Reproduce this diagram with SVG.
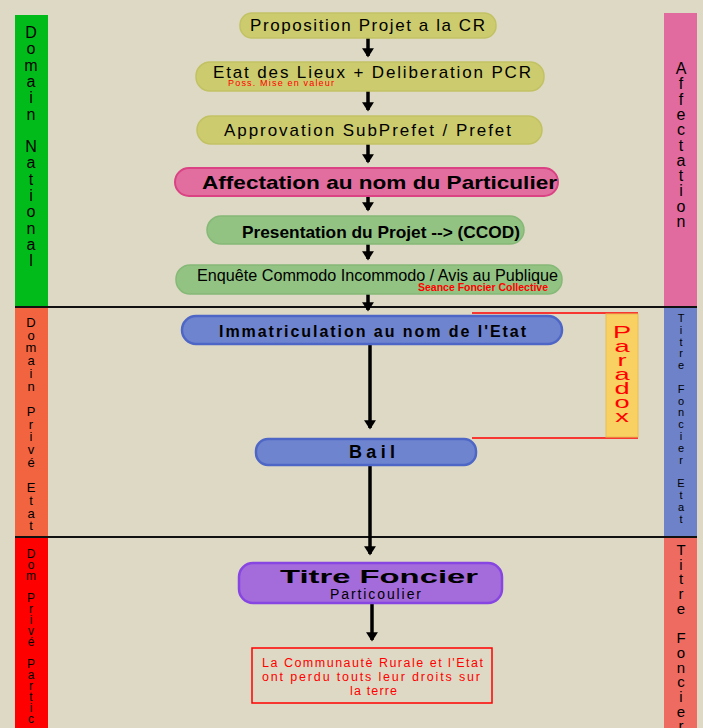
<svg xmlns="http://www.w3.org/2000/svg" width="703" height="728" viewBox="0 0 703 728">
<style>
text{font-family:"Liberation Sans",Arial,sans-serif}
.t{font-size:17px;fill:#000}
.b{font-weight:bold}
.yl{fill:#CCCB6E;stroke:#C2C264;stroke-width:1.5}
.gr{fill:#92C383;stroke:#86B877;stroke-width:1.5}
.bl{fill:#6F84CE;stroke:#4E66C6;stroke-width:2.5}
.arr{stroke:#000;stroke-width:3.5;fill:none;marker-end:url(#ah)}
.band{stroke:none}
.vl{font-size:16px;fill:#000;text-anchor:middle}
</style>
<defs>
<marker id="ah" markerWidth="4" markerHeight="4" refX="2.2" refY="2" orient="auto" markerUnits="strokeWidth">
<path d="M0,0.3 L2.6,2 L0,3.7 Z" fill="#000"/>
</marker>
</defs>
<rect width="703" height="728" fill="#DED9C4"/>

<g id="bands">
<rect class="band" x="15" y="15" width="33" height="292" fill="#00BB1A"/>
<rect class="band" x="15" y="307" width="33" height="230" fill="#F2643F"/>
<rect class="band" x="15" y="537" width="33" height="191" fill="#FF0000"/>
<rect class="band" x="664" y="13" width="33" height="294" fill="#E16B9E"/>
<rect class="band" x="664" y="307" width="33" height="230" fill="#6D82C9"/>
<rect class="band" x="664" y="537" width="33" height="191" fill="#EE6B61"/>
<line x1="15" y1="307" x2="697" y2="307" stroke="#111" stroke-width="2"/>
<line x1="15" y1="537" x2="697" y2="537" stroke="#111" stroke-width="2"/>
</g>

<g id="label-domain-national">
<text class="vl" style="font-size:16px"><tspan x="31" y="38">D</tspan><tspan x="31" dy="16.3">o</tspan><tspan x="31" dy="16.3">m</tspan><tspan x="31" dy="16.3">a</tspan><tspan x="31" dy="16.3">i</tspan><tspan x="31" dy="16.3">n</tspan><tspan x="31" dy="16.3"> </tspan><tspan x="31" dy="16.3">N</tspan><tspan x="31" dy="16.3">a</tspan><tspan x="31" dy="16.3">t</tspan><tspan x="31" dy="16.3">i</tspan><tspan x="31" dy="16.3">o</tspan><tspan x="31" dy="16.3">n</tspan><tspan x="31" dy="16.3">a</tspan><tspan x="31" dy="16.3">l</tspan></text>
</g>
<g id="label-domain-prive-etat">
<text class="vl" style="font-size:13px"><tspan x="31" y="327">D</tspan><tspan x="31" dy="12.7">o</tspan><tspan x="31" dy="12.7">m</tspan><tspan x="31" dy="12.7">a</tspan><tspan x="31" dy="12.7">i</tspan><tspan x="31" dy="12.7">n</tspan><tspan x="31" dy="12.7"> </tspan><tspan x="31" dy="12.7">P</tspan><tspan x="31" dy="12.7">r</tspan><tspan x="31" dy="12.7">i</tspan><tspan x="31" dy="12.7">v</tspan><tspan x="31" dy="12.7">é</tspan><tspan x="31" dy="12.7"> </tspan><tspan x="31" dy="12.7">E</tspan><tspan x="31" dy="12.7">t</tspan><tspan x="31" dy="12.7">a</tspan><tspan x="31" dy="12.7">t</tspan></text>
</g>
<g id="label-dom-prive-partic">
<text class="vl" style="font-size:12px"><tspan x="31" y="558">D</tspan><tspan x="31" dy="11">o</tspan><tspan x="31" dy="11">m</tspan><tspan x="31" dy="11"> </tspan><tspan x="31" dy="11">P</tspan><tspan x="31" dy="11">r</tspan><tspan x="31" dy="11">i</tspan><tspan x="31" dy="11">v</tspan><tspan x="31" dy="11">é</tspan><tspan x="31" dy="11"> </tspan><tspan x="31" dy="11">P</tspan><tspan x="31" dy="11">a</tspan><tspan x="31" dy="11">r</tspan><tspan x="31" dy="11">t</tspan><tspan x="31" dy="11">i</tspan><tspan x="31" dy="11">c</tspan></text>
</g>
<g id="label-affectation">
<text class="vl" style="font-size:16px"><tspan x="681" y="74">A</tspan><tspan x="681" dy="15.3">f</tspan><tspan x="681" dy="15.3">f</tspan><tspan x="681" dy="15.3">e</tspan><tspan x="681" dy="15.3">c</tspan><tspan x="681" dy="15.3">t</tspan><tspan x="681" dy="15.3">a</tspan><tspan x="681" dy="15.3">t</tspan><tspan x="681" dy="15.3">i</tspan><tspan x="681" dy="15.3">o</tspan><tspan x="681" dy="15.3">n</tspan></text>
</g>
<g id="label-titre-foncier-etat">
<text class="vl" style="font-size:11px"><tspan x="681" y="322">T</tspan><tspan x="681" dy="11.8">i</tspan><tspan x="681" dy="11.8">t</tspan><tspan x="681" dy="11.8">r</tspan><tspan x="681" dy="11.8">e</tspan><tspan x="681" dy="11.8"> </tspan><tspan x="681" dy="11.8">F</tspan><tspan x="681" dy="11.8">o</tspan><tspan x="681" dy="11.8">n</tspan><tspan x="681" dy="11.8">c</tspan><tspan x="681" dy="11.8">i</tspan><tspan x="681" dy="11.8">e</tspan><tspan x="681" dy="11.8">r</tspan><tspan x="681" dy="11.8"> </tspan><tspan x="681" dy="11.8">E</tspan><tspan x="681" dy="11.8">t</tspan><tspan x="681" dy="11.8">a</tspan><tspan x="681" dy="11.8">t</tspan></text>
</g>
<g id="label-titre-foncier">
<text class="vl" style="font-size:15px"><tspan x="681" y="555">T</tspan><tspan x="681" dy="14.7">i</tspan><tspan x="681" dy="14.7">t</tspan><tspan x="681" dy="14.7">r</tspan><tspan x="681" dy="14.7">e</tspan><tspan x="681" dy="14.7"> </tspan><tspan x="681" dy="14.7">F</tspan><tspan x="681" dy="14.7">o</tspan><tspan x="681" dy="14.7">n</tspan><tspan x="681" dy="14.7">c</tspan><tspan x="681" dy="14.7">i</tspan><tspan x="681" dy="14.7">e</tspan><tspan x="681" dy="14.7">r</tspan></text>
</g>

<g id="paradox">
<line x1="472" y1="313" x2="638" y2="313" stroke="#FF0000" stroke-width="1.5"/>
<line x1="472" y1="438" x2="638" y2="438" stroke="#FF0000" stroke-width="1.5"/>
<rect x="606" y="314" width="32" height="123" fill="#F9D062" stroke="#E8BE55" stroke-width="1"/>
<g transform="translate(622,0) scale(1.7,1)">
<text style="font-size:16px;fill:#FF0000;text-anchor:middle"><tspan x="0" y="338">P</tspan><tspan x="0" dy="14">a</tspan><tspan x="0" dy="14">r</tspan><tspan x="0" dy="14">a</tspan><tspan x="0" dy="14">d</tspan><tspan x="0" dy="14">o</tspan><tspan x="0" dy="14">x</tspan></text>
</g>
</g>

<g id="connectors">
<line class="arr" x1="368" y1="38" x2="368" y2="56"/>
<line class="arr" x1="368" y1="91" x2="368" y2="110"/>
<line class="arr" x1="368" y1="144" x2="368" y2="162"/>
<line class="arr" x1="368" y1="196" x2="368" y2="210"/>
<line class="arr" x1="368" y1="244" x2="368" y2="259"/>
<line class="arr" x1="368" y1="294" x2="368" y2="310"/>
<line class="arr" x1="370" y1="344" x2="370" y2="428"/>
<line class="arr" x1="370" y1="465" x2="370" y2="554"/>
<line class="arr" x1="372" y1="603" x2="372" y2="640"/>
</g>

<g id="n1">
<rect class="yl" x="240" y="13" width="256" height="25" rx="12"/>
<text class="t" x="250" y="31" textLength="235" lengthAdjust="spacing">Proposition Projet a la CR</text>
</g>
<g id="n2">
<rect class="yl" x="196" y="62" width="348" height="29" rx="14"/>
<text class="t" x="213" y="78" textLength="318" lengthAdjust="spacing">Etat des Lieux + Deliberation PCR</text>
<text x="228" y="86" textLength="106" lengthAdjust="spacing" style="font-size:9px;fill:#FF0000">Poss. Mise en valeur</text>
</g>
<g id="n3">
<rect class="yl" x="197" y="116" width="345" height="28" rx="14"/>
<text class="t" x="224" y="136" textLength="287" lengthAdjust="spacing">Approvation SubPrefet / Prefet</text>
</g>
<g id="n4">
<rect x="175" y="168" width="383" height="28" rx="14" fill="#E26E9F" stroke="#DA4284" stroke-width="2"/>
<text class="b" x="202" y="189" textLength="355" lengthAdjust="spacingAndGlyphs" style="font-size:19px;fill:#000">Affectation au nom du Particulier</text>
</g>
<g id="n5">
<rect class="gr" x="207" y="216" width="317" height="28" rx="14"/>
<text class="b" x="242" y="238" textLength="278" lengthAdjust="spacingAndGlyphs" style="font-size:17px;fill:#000">Presentation du Projet --&gt; (CCOD)</text>
</g>
<g id="n6">
<rect class="gr" x="176" y="265" width="386" height="29" rx="14"/>
<text x="197" y="281" textLength="361" lengthAdjust="spacingAndGlyphs" style="font-size:16px;fill:#000">Enquête Commodo Incommodo / Avis au Publique</text>
<text class="b" x="418" y="291" textLength="130" lengthAdjust="spacingAndGlyphs" style="font-size:10px;fill:#FF0000">Seance Foncier Collective</text>
</g>
<g id="n7">
<rect class="bl" x="182" y="316" width="380" height="28" rx="14"/>
<text class="b" x="219" y="337" textLength="307" lengthAdjust="spacing" style="font-size:16px;fill:#000">Immatriculation au nom de l'Etat</text>
</g>
<g id="n8">
<rect class="bl" x="256" y="439" width="220" height="26" rx="12"/>
<text class="b" x="349" y="458" textLength="46" lengthAdjust="spacing" style="font-size:18px;fill:#000">Bail</text>
</g>
<g id="n9">
<rect x="239" y="563" width="263" height="40" rx="14" fill="#A46BDB" stroke="#8746E2" stroke-width="2.5"/>
<text class="b" x="280" y="583" textLength="198" lengthAdjust="spacingAndGlyphs" style="font-size:18px;fill:#000">Titre Foncier</text>
<text x="330" y="599" textLength="91" lengthAdjust="spacing" style="font-size:14px;fill:#000">Particoulier</text>
</g>
<g id="n10">
<rect x="252" y="648" width="240" height="55" fill="none" stroke="#FF0000" stroke-width="1.5"/>
<text style="font-size:12.5px;fill:#FF0000"><tspan x="262" y="667" textLength="221" lengthAdjust="spacing">La Communautè Rurale et l'Etat</tspan><tspan x="262" y="681" textLength="218" lengthAdjust="spacing">ont perdu touts leur droits sur</tspan><tspan x="350" y="695" textLength="47" lengthAdjust="spacing">la terre</tspan></text>
</g>
</svg>
